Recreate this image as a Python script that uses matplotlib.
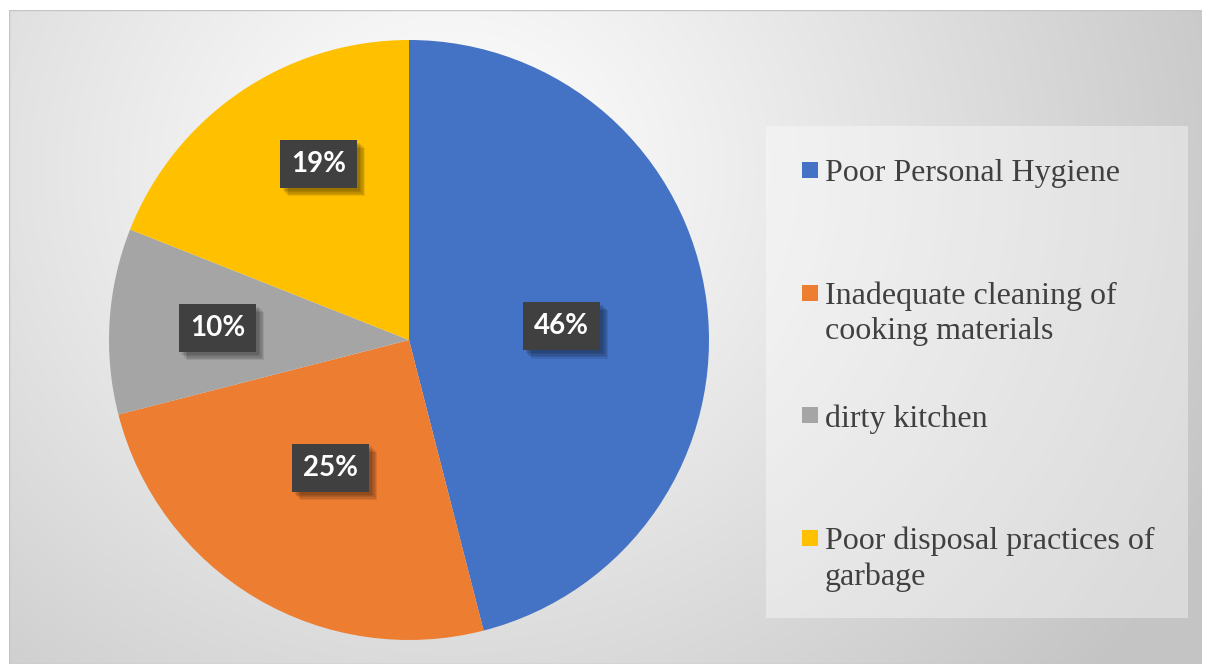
import numpy as np
import matplotlib
matplotlib.use("Agg")
import matplotlib.pyplot as plt
from matplotlib.patches import Rectangle
import matplotlib.patheffects as pe

# ---- data ----
categories = ["Poor Personal Hygiene",
              "Inadequate cleaning of\ncooking materials",
              "dirty kitchen",
              "Poor disposal practices of\ngarbage"]
values = [46, 25, 10, 19]
pct_labels = ["46%", "25%", "10%", "19%"]
colors = ["#4472C4", "#ED7D31", "#A5A5A5", "#FFC000"]

# ---- style ----
label_dist = [0.51, 0.50, 0.64, 0.66]
label_angle_shift = [-2.0, -1.0, 0.0, -7.0]
legend_captop_px = [160, 283, 405, 528]

W, H = 1208, 664
fig = plt.figure(figsize=(W / 100, H / 100), dpi=100)
fig.patch.set_facecolor("white")

# background radial gradient in chart area
x0, y0, x1, y1 = 9, 10, 1202, 664
bg = fig.add_axes([x0 / W, 1 - y1 / H, (x1 - x0) / W, (y1 - y0) / H])
gx, gy = np.meshgrid(np.arange(x0, x1), np.arange(y0, y1))
cx, cy = 450, 170
d = np.sqrt((gx - cx) ** 2 + ((gy - cy) * 1.1) ** 2)
d = np.clip(d / 850.0, 0, 1)
lum = 1.0 - (1.0 - 0.77) * d ** 1.1
img = np.dstack([lum, lum, lum])
bg.imshow(img, aspect="auto", extent=[0, 1, 0, 1], interpolation="bilinear")
bg.set_axis_off()
bg.add_patch(Rectangle((0, 0), 1, 1, transform=bg.transAxes, fill=False,
                       edgecolor="#c4c4c4", linewidth=1.0))

# pie axes: center (409,340), radius 300 px
r_px = 300
pcx, pcy = 409, 340
ax = fig.add_axes([(pcx - r_px) / W, 1 - (pcy + r_px) / H, 2 * r_px / W, 2 * r_px / H])
wedges, _ = ax.pie(values, colors=colors, startangle=90, counterclock=False,
                   radius=1.0, wedgeprops=dict(linewidth=0))
ax.set_xlim(-1, 1)
ax.set_ylim(-1, 1)
ax.set_aspect("equal")
ax.set_axis_off()
ax.patch.set_alpha(0)

shadow_fx = [pe.SimplePatchShadow(offset=(o, -o), shadow_rgbFace="black", alpha=0.09)
             for o in (2, 3, 4, 5, 6)] + [pe.Normal()]

for w, lab, dist, sh in zip(wedges, pct_labels, label_dist, label_angle_shift):
    mid = np.deg2rad((w.theta1 + w.theta2) / 2 + sh)
    t = ax.text(dist * np.cos(mid), dist * np.sin(mid), lab,
                ha="center", va="center", color="white",
                fontsize=20, fontweight="bold", family=["Lato", "DejaVu Sans"],
                bbox=dict(boxstyle="square,pad=0.4", facecolor="#404040",
                          edgecolor="none"))
    t.get_bbox_patch().set_path_effects(shadow_fx)

# legend box
lx0, ly0, lx1, ly1 = 766, 126, 1188, 618
fig.patches.append(Rectangle((lx0 / W, 1 - ly1 / H), (lx1 - lx0) / W, (ly1 - ly0) / H,
                             transform=fig.transFigure, facecolor="white",
                             alpha=0.38, edgecolor="none", zorder=1))
for cat, col, ypx in zip(categories, colors, legend_captop_px):
    fig.patches.append(Rectangle((802 / W, 1 - (ypx + 18) / H), 16 / W, 16 / H,
                                 transform=fig.transFigure, facecolor=col,
                                 edgecolor="none", zorder=3))
    fig.text(825 / W, 1 - (ypx - 1) / H, cat, ha="left", va="top",
             fontsize=23, color="#404040", family=["Liberation Serif", "DejaVu Serif"],
             linespacing=1.25, zorder=3)

fig.savefig("out.png", dpi=100, facecolor=fig.get_facecolor())
